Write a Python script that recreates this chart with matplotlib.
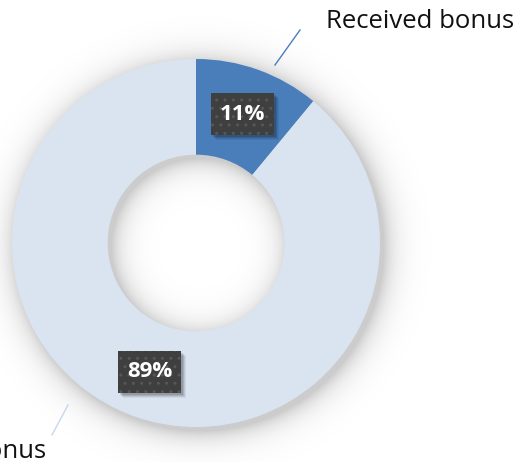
import numpy as np
import matplotlib
matplotlib.use("Agg")
import matplotlib.pyplot as plt

labels = ["Received bonus", "Did not receive bonus"]
shares = [11, 89]
colors = ["#4a7ebb", "#dae4f1"]

W, H = 528, 462
cx, cy = 196, H - 243
r_out = 184
ring = 0.52

fig = plt.figure(figsize=(W / 100, H / 100), dpi=100)
ax = fig.add_axes([0, 0, 1, 1])
ax.set_xlim(0, W)
ax.set_ylim(0, H)
ax.axis("off")

# soft shadow under the ring
yy, xx = np.mgrid[0:H, 0:W]
d = np.hypot(xx + 0.5 - (cx + 4), (H - yy - 0.5) - (cy - 4))
r_in = r_out * (1 - ring)
dist = np.where(d > r_out, d - r_out, np.where(d < r_in, r_in - d, 0))
alpha = 0.2 * np.exp(-dist / 12.0)
shadow = np.zeros((H, W, 4))
shadow[..., 3] = alpha
ax.imshow(shadow, extent=(0, W, 0, H), origin="upper", zorder=0)

wedges, _, pcts = ax.pie(
    shares, colors=colors, startangle=90, counterclock=False,
    radius=r_out, center=(cx, cy), autopct="%d%%", pctdistance=0.745,
    wedgeprops=dict(width=r_out * ring, edgecolor="none"),
    textprops=dict(color="white", fontsize=16, fontweight="bold",
                   family="Open Sans"),
)
ax.set_xlim(0, W)
ax.set_ylim(0, H)
ax.set_aspect("equal")

bw, bh = 63, 42
for t in pcts:
    t.set_zorder(6)
    t.set_va("center")
    x, y = t.get_position()
    for k, a in [(7, 0.06), (6, 0.08), (5, 0.1), (4, 0.12)]:
        ax.add_patch(plt.Rectangle((x - bw / 2 + k - 2, y - bh / 2 - k + 2),
                                   bw, bh, fc="black", alpha=a, lw=0,
                                   zorder=3))
    ax.add_patch(plt.Rectangle((x - bw / 2, y - bh / 2), bw, bh,
                               fc="#3f3f3f", ec="#575757", hatch="..",
                               lw=0, zorder=4))

# outer labels with leader lines
ax.plot([275, 300], [H - 65, H - 30], color="#4a7ebb", lw=1)
ax.text(326, H - 22, labels[0], fontsize=18.5, family="Open Sans",
        ha="left", va="center", color="#111111")
ax.plot([68, 52], [H - 405, H - 435], color="#c9d7ec", lw=1)
ax.text(46, H - 451, labels[1], fontsize=18.5, family="Open Sans",
        ha="right", va="center", color="#111111")

fig.savefig("out.png", dpi=100)
